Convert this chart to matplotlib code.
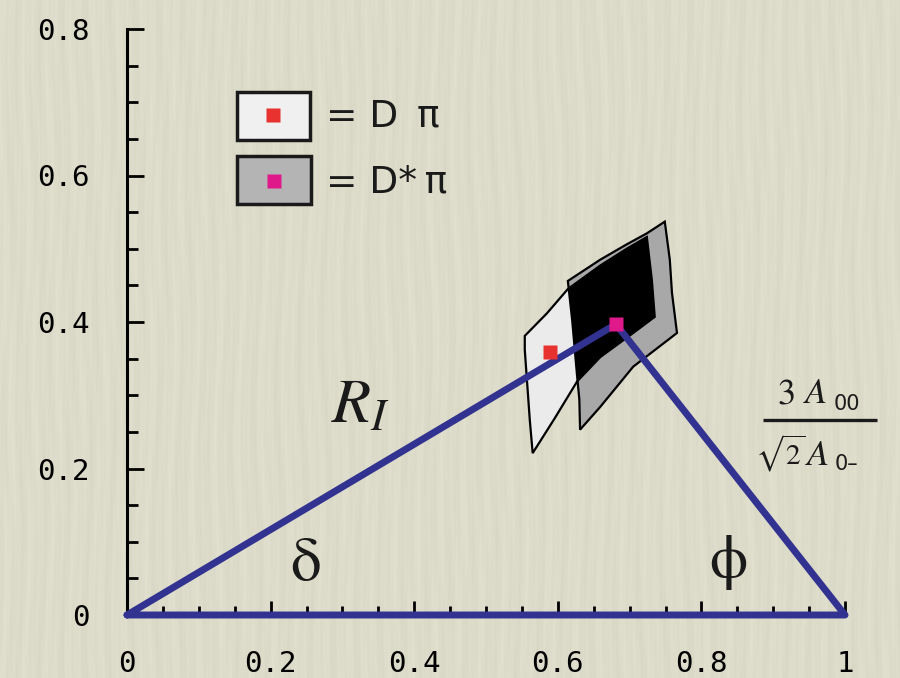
import numpy as np
import matplotlib
matplotlib.use("Agg")
import matplotlib.pyplot as plt
from matplotlib.patches import Polygon, Rectangle

plt.rcParams['mathtext.fontset'] = 'stix'

# Dπ and D*π points, the apex of the unitarity triangle is the D*π point
dpi_pt = (0.589, 0.359)
dstar_pt = (0.681, 0.397)

# allowed region for Dπ (closed outline)
dpi_x = [0.554, 0.585, 0.614, 0.659, 0.696, 0.724, 0.731, 0.735,
         0.705, 0.659, 0.627, 0.596, 0.565, 0.561, 0.557, 0.554]
dpi_y = [0.381, 0.412, 0.445, 0.477, 0.500, 0.516, 0.457, 0.407,
         0.385, 0.352, 0.319, 0.269, 0.221, 0.266, 0.321, 0.362]

# allowed region for D*π
dstar_x = [0.614, 0.659, 0.696, 0.724, 0.749, 0.756, 0.759, 0.766,
           0.705, 0.659, 0.631, 0.630, 0.627, 0.620]
dstar_y = [0.456, 0.485, 0.506, 0.521, 0.537, 0.485, 0.440, 0.385,
           0.339, 0.284, 0.253, 0.294, 0.325, 0.403]

x_ticks = [0, 0.2, 0.4, 0.6, 0.8, 1]
x_labels = ["0", "0.2", "0.4", "0.6", "0.8", "1"]
y_ticks = [0, 0.2, 0.4, 0.6, 0.8]
y_labels = ["0", "0.2", "0.4", "0.6", "0.8"]

W, H = 900, 678
fig = plt.figure(figsize=(W / 100, H / 100), dpi=100)
fig.patch.set_facecolor('#dcdbc8')

# paper grain: soft vertical streaks
xx, yy = np.meshgrid(np.arange(W), np.arange(H))
grain = (0.5 * np.sin(2 * np.pi * xx / 11.3 + 2.2 * np.sin(yy / 53.0 + xx / 40.0))
         + 0.3 * np.sin(2 * np.pi * xx / 4.7 + 1.7 + 1.2 * np.sin(yy / 31.0))
         + 0.45 * np.sin(2 * np.pi * xx / 23.9 + 1.5 * np.sin(yy / 97.0 + xx / 70.0)))
base = np.array([221, 220, 202]) / 255.0
img = base[None, None, :] + 0.014 * grain[:, :, None]
fig.figimage(np.clip(img, 0, 1), xo=0, yo=0, zorder=-10)

ax = fig.add_axes([127 / W, 63 / H, 718 / W, 586 / H])
ax.set_zorder(1)
ax.set_facecolor('none')
ax.set_xlim(0, 1)
ax.set_ylim(0, 0.8)
for s in ['top', 'right']:
    ax.spines[s].set_visible(False)
for s in ['left', 'bottom']:
    ax.spines[s].set_linewidth(2.2)
    ax.spines[s].set_color('black')

mono = 'DejaVu Sans Mono'
ax.set_xticks(x_ticks)
ax.set_xticklabels(x_labels, fontfamily=mono, fontsize=21)
ax.set_yticks(y_ticks)
ax.set_yticklabels(y_labels, fontfamily=mono, fontsize=21)
ax.set_xticks(np.arange(0.05, 1.0, 0.05), minor=True)
ax.set_yticks(np.arange(0.05, 0.8, 0.05), minor=True)
ax.tick_params(axis='x', which='major', direction='in', length=10, width=2, pad=25.5)
ax.tick_params(axis='x', which='minor', direction='in', length=6.5, width=2)
ax.tick_params(axis='y', which='major', direction='in', length=12, width=2, pad=27)
ax.tick_params(axis='y', which='minor', direction='in', length=8, width=2)

# regions: light Dπ, gray D*π, black where they overlap
light = Polygon(np.column_stack([dpi_x, dpi_y]), closed=True,
                facecolor='#ebebeb', edgecolor='black', lw=1.6, zorder=3)
gray = Polygon(np.column_stack([dstar_x, dstar_y]), closed=True,
               facecolor='#a8a8a8', edgecolor='black', lw=1.6, zorder=4)
ax.add_patch(light)
ax.add_patch(gray)
overlap = Polygon(np.column_stack([dpi_x, dpi_y]), closed=True,
                  facecolor='black', edgecolor='black', lw=1.6, zorder=5)
ax.add_patch(overlap)
overlap.set_clip_path(gray)

# triangle
ax.plot([0, dstar_pt[0], 1, 0], [0, dstar_pt[1], 0, 0], color='#323290',
        lw=5, solid_joinstyle='round', solid_capstyle='round',
        clip_on=False, zorder=6)

ax.plot(*dpi_pt, marker='s', ms=10, color='#e8322f', mec='none', zorder=7)
ax.plot(*dstar_pt, marker='s', ms=10, color='#e0198a', mec='none', zorder=7,
        clip_on=False)

# legend boxes
ax.add_patch(Rectangle((0.153, 0.648), 0.102, 0.066, facecolor='#f0f0f0',
                       edgecolor='#1a1a1a', lw=2.5, zorder=3))
ax.add_patch(Rectangle((0.153, 0.561), 0.103, 0.066, facecolor='#b4b4b4',
                       edgecolor='#1a1a1a', lw=2.5, zorder=3))
ax.plot(0.203, 0.683, marker='s', ms=10, color='#e8322f', mec='none', zorder=4)
ax.plot(0.205, 0.592, marker='s', ms=10, color='#e0198a', mec='none', zorder=4)
ax.text(0.277, 0.680, "= D\u2002π", fontsize=27, fontfamily='DejaVu Sans',
        va='center', ha='left', color='#1a1a1a')
ax.text(0.277, 0.590, "= D*\u2009π", fontsize=27, fontfamily='DejaVu Sans',
        va='center', ha='left', color='#1a1a1a')

# labels on the triangle
ax.text(0.325, 0.287, r'$R_I$', fontsize=46, ha='center', va='center',
        color='#1a1a1a')
ax.text(0.248, 0.067, 'δ', fontsize=44, fontfamily='STIXGeneral',
        ha='center', va='center', color='#1a1a1a')
ax.text(0.838, 0.071, 'ϕ', fontsize=44, fontfamily='STIXGeneral',
        ha='center', va='center', color='#1a1a1a')

# 3 A00 / (sqrt2 A0-) written out piece by piece
kw = dict(color='#1a1a1a', va='baseline', ha='left', clip_on=False)
ax.text(0.905, 0.289, r'$3$', fontsize=26, **kw)
ax.text(0.942, 0.289, r'$A$', fontsize=26, **kw)
ax.text(0.984, 0.280, '00', fontsize=15, fontfamily='DejaVu Sans', **kw)
ax.plot([0.886, 1.045], [0.266, 0.266], color='#1a1a1a', lw=2.4,
        solid_capstyle='butt', clip_on=False)
ax.text(0.874, 0.205, r'$\sqrt{2}$', fontsize=21, **kw)
ax.text(0.944, 0.205, r'$A$', fontsize=26, **kw)
ax.text(0.986, 0.198, '0\u2013', fontsize=15, fontfamily='DejaVu Sans', **kw)

fig.savefig('out.png', dpi=100, facecolor=fig.get_facecolor())
